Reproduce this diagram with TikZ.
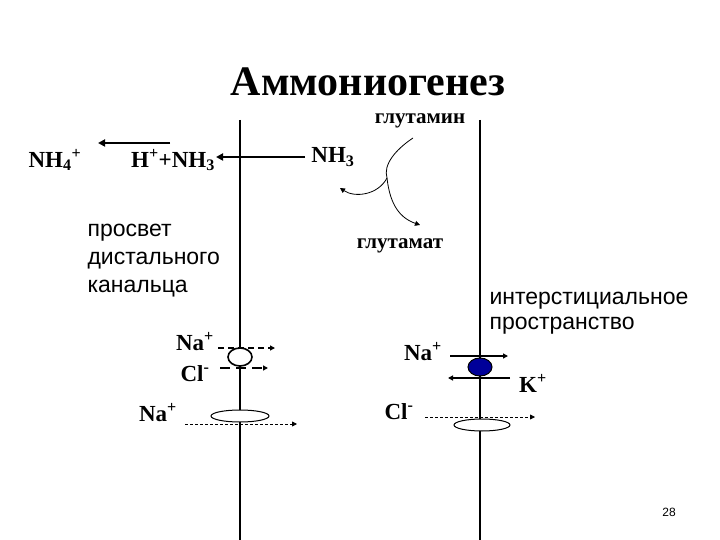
\documentclass[tikz,border=0pt]{standalone}
\usepackage{fontspec}
\setmainfont{Liberation Serif}
\setsansfont{Liberation Sans}
\usetikzlibrary{arrows.meta}
\tikzset{
  membrane/.style={line width=2.2pt},
  ion/.style={font=\fontsize{23}{25}\selectfont\bfseries},
  regiontext/.style={font=\sffamily\fontsize{23}{28}\selectfont, align=left, anchor=west},
  chan/.style={draw, line width=1pt, fill=white, ellipse},
  flow/.style={-{Triangle[length=5pt,width=5pt]}, line width=0.8pt},
  bigflow/.style={-{Triangle[length=7pt,width=7pt]}, line width=2.2pt}
}
\usetikzlibrary{shapes.geometric}
\newcommand{\up}[1]{\textsuperscript{#1}}
\newcommand{\dn}[1]{\textsubscript{#1}}
\begin{document}
\begin{tikzpicture}[x=1pt,y=-1pt]
    \useasboundingbox (0,0) rectangle (720,540);
    % membranes
    \coordinate (lt) at (240,120); \coordinate (lb) at (240,540);
    \coordinate (rt) at (480,120); \coordinate (rb) at (480,540);
    \draw[membrane] (lt) -- (lb);
    \draw[membrane] (rt) -- (rb);
    \node[font=\fontsize{42}{44}\selectfont\bfseries] (title) at (368,82) {Аммониогенез};
    % ammonia
    \node[ion] (nh4) at (55,160) {NH\dn{4}\up{+}};
    \node[ion] (hnh3) at (173,160) {H\up{+}+NH\dn{3}};
    \node[ion] (nh3) at (333,157) {NH\dn{3}};
    \node[font=\fontsize{21}{23}\selectfont\bfseries] (gln) at (420,121) {глутамин};
    \node[font=\fontsize{21}{23}\selectfont\bfseries] (glu) at (400,246) {глутамат};
    \coordinate (a1) at (170,143); \coordinate (a2) at (98,143);
    \coordinate (b1) at (305,157); \coordinate (b2) at (216,157);
    \draw[bigflow] (a1) -- (a2);
    \draw[bigflow] (b1) -- (b2);
    \coordinate (c0) at (413,138); \coordinate (cm) at (387,178);
    \coordinate (c1) at (420,225); \coordinate (c2) at (340,188);
    \draw[flow] (c0) .. controls (395,150) and (383,165) .. (cm)
      .. controls (390,205) and (400,218) .. (c1);
    \draw[flow] (cm) .. controls (378,195) and (355,198) .. (c2);
    % regions
    \node[regiontext] (lumen) at (84,261) {просвет\\дистального\\канальца};
    \node[regiontext, font=\sffamily\fontsize{23}{25}\selectfont] (inter) at (486,313) {интерстициальное\\пространство};
    % left membrane transporters
    \node[ion] (na1) at (195,342) {Na\up{+}};
    \node[ion] (cl1) at (195,374) {Cl\up{-}};
    \node[chan, minimum width=24pt, minimum height=18pt, line width=1.6pt] (nkcc) at (240,357) {};
    \coordinate (na1s) at (218,348); \coordinate (na1e) at (275,348);
    \coordinate (cl1s) at (220,368); \coordinate (cl1e) at (268,368);
    \draw[flow, dash pattern=on 6pt off 4pt, line width=1.2pt] (na1s) -- (na1e);
    \draw[flow, dash pattern=on 10pt off 6pt, line width=1.6pt] (cl1s) -- (cl1e);
    \node[ion] (na2) at (158,413) {Na\up{+}};
    \node[chan, minimum width=58pt, minimum height=12pt] (enac) at (240,416) {};
    \coordinate (na2s) at (185,424); \coordinate (na2e) at (297,424);
    \draw[flow, densely dashed] (na2s) -- (na2e);
    % right membrane transporters
    \node[ion] (na3) at (423,352) {Na\up{+}};
    \node[ion] (k) at (533,383) {K\up{+}};
    \node[ellipse, draw, line width=1pt, fill=blue!60!black, minimum width=24pt, minimum height=18pt] (pump) at (480,367) {};
    \coordinate (p1) at (450,356); \coordinate (p2) at (508,356);
    \coordinate (p3) at (510,378); \coordinate (p4) at (448,378);
    \draw[flow, line width=1.2pt] (p1) -- (p2);
    \draw[flow, line width=1.2pt] (p3) -- (p4);
    \node[ion] (cl2) at (399,412) {Cl\up{-}};
    \node[chan, minimum width=56pt, minimum height=12pt] (clc) at (482,425) {};
    \coordinate (cl2s) at (425,417); \coordinate (cl2e) at (535,417);
    \draw[flow, densely dashed] (cl2s) -- (cl2e);
    \node[font=\sffamily\fontsize{12}{14}\selectfont] (page) at (669,512) {28};
\end{tikzpicture}
\end{document}
